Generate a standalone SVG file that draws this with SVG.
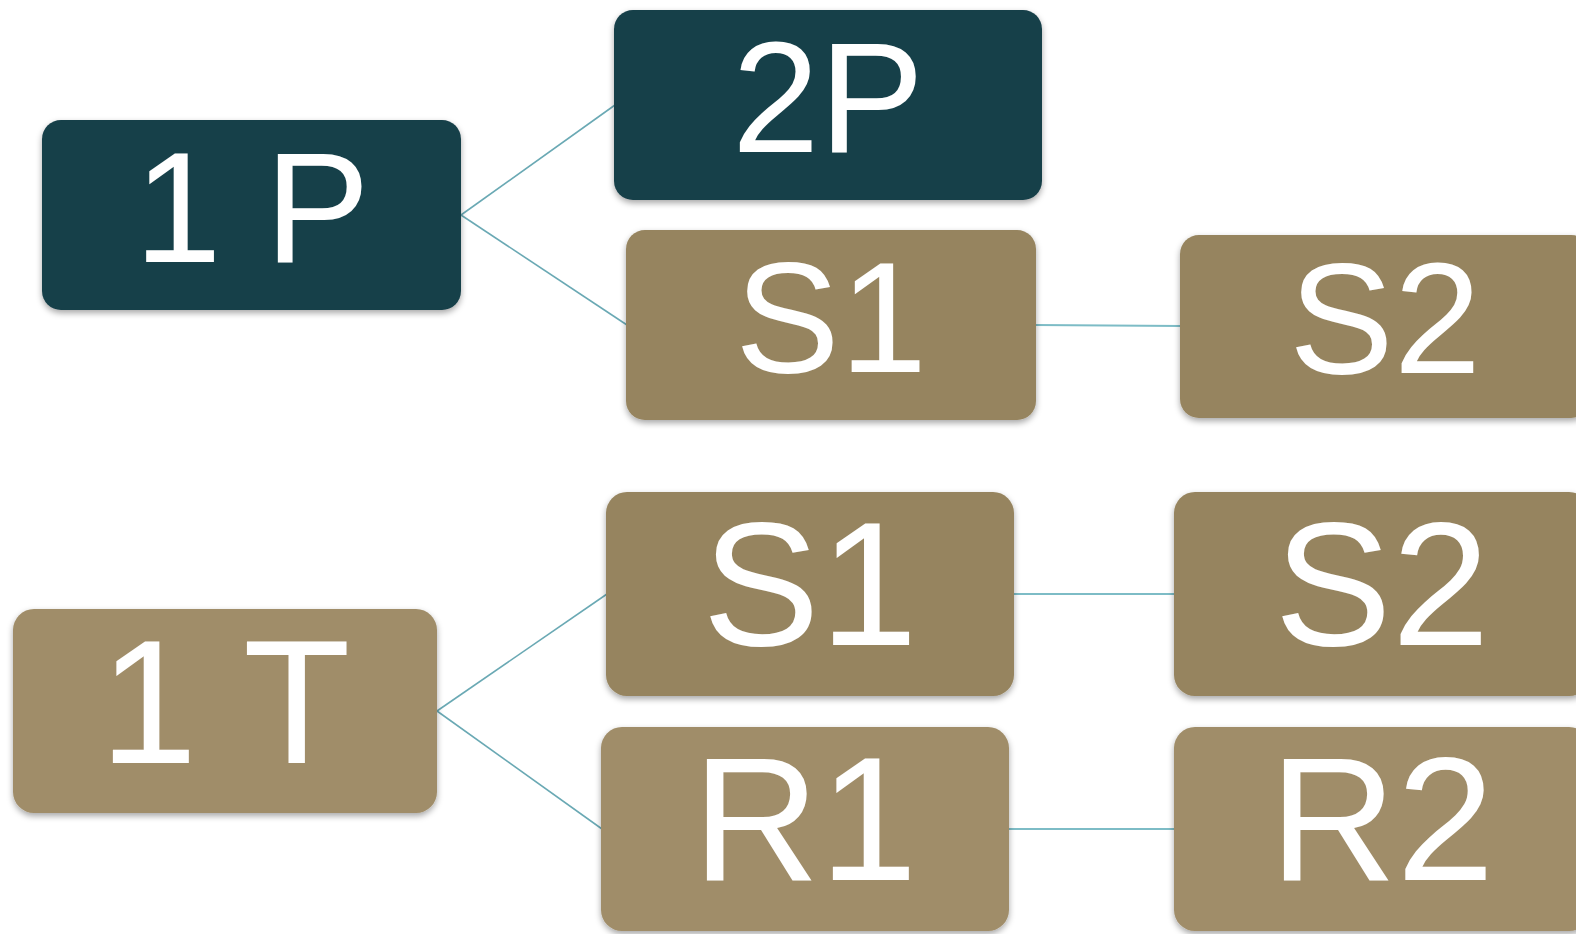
<svg xmlns="http://www.w3.org/2000/svg" width="1576" height="934" viewBox="0 0 1576 934">
<defs>
<filter id="sh" x="-10%" y="-10%" width="120%" height="125%">
<feDropShadow dx="0" dy="3" stdDeviation="3" flood-color="#000" flood-opacity="0.35"/>
</filter>
</defs>
<style>
.b{filter:url(#sh)}
.teal{fill:#19404a}
.br{fill:#96845f}
.lt{fill:#a08d69}
text{fill:#fff;text-anchor:middle}
.t1{font-size:157px}
.t2{font-size:176px}
.c{stroke:#6aa9b4;stroke-width:1.6;fill:none}
.h{stroke:#7dbcc6;stroke-width:2;fill:none}
</style>
<rect width="1576" height="934" fill="#fff"/>
<g id="connectors">
<line class="c" x1="461" y1="215" x2="615" y2="105"/>
<line class="c" x1="461" y1="215" x2="627" y2="325"/>
<line class="h" x1="1035" y1="325" x2="1181" y2="326"/>
<line class="c" x1="437" y1="711" x2="607" y2="594"/>
<line class="c" x1="437" y1="711" x2="602" y2="829"/>
<line class="h" x1="1013" y1="594" x2="1175" y2="594"/>
<line class="h" x1="1008" y1="829" x2="1175" y2="829"/>
</g>
<g font-family="Liberation Sans, Arial, Roboto, sans-serif">
<g id="n1P"><rect class="b teal" x="42" y="120" width="419" height="190" rx="19"/><text class="t1" x="252" y="262" font-size="159">1 P</text></g>
<g id="n2P"><rect class="b teal" x="614" y="10" width="428" height="190" rx="19"/><text class="t1" x="828" y="152">2P</text></g>
<g id="nS1a"><rect class="b br" x="626" y="230" width="410" height="190" rx="19"/><text class="t1" x="831" y="372">S1</text></g>
<g id="nS2a"><rect class="b br" x="1180" y="235" width="410" height="183" rx="19"/><text class="t1" x="1385" y="373">S2</text></g>
<g id="n1T"><rect class="b lt" x="13" y="609" width="424" height="204" rx="21"/><text class="t2" x="225" y="763">1 T</text></g>
<g id="nS1b"><rect class="b br" x="606" y="492" width="408" height="204" rx="21"/><text class="t2" x="810" y="645">S1</text></g>
<g id="nS2b"><rect class="b br" x="1174" y="492" width="416" height="204" rx="21"/><text class="t2" x="1382" y="645">S2</text></g>
<g id="nR1"><rect class="b lt" x="601" y="727" width="408" height="204" rx="21"/><text class="t2" x="805" y="880">R1</text></g>
<g id="nR2"><rect class="b lt" x="1174" y="727" width="416" height="204" rx="21"/><text class="t2" x="1382" y="880">R2</text></g>
</g>
</svg>
